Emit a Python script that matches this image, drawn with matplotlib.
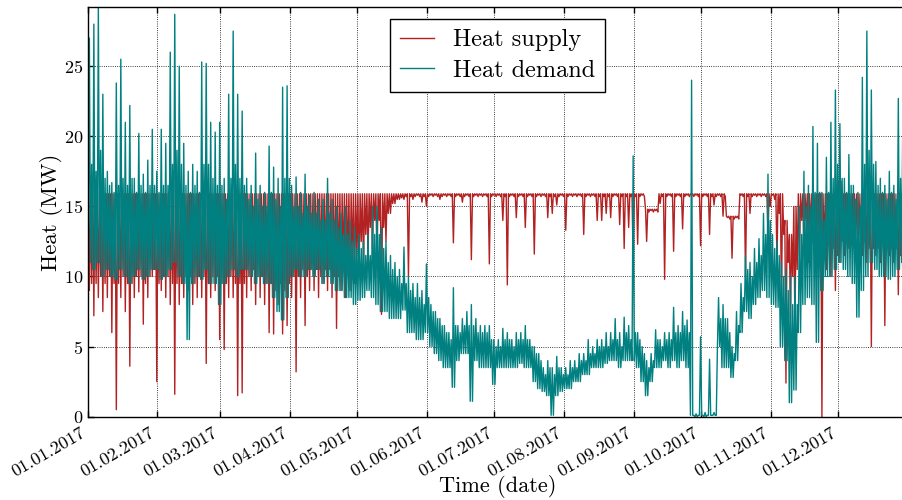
import numpy as np
import matplotlib
matplotlib.use('Agg')
import matplotlib.pyplot as plt
import matplotlib.dates as mdates

plt.rcParams['font.family'] = 'cmr10'
plt.rcParams['axes.formatter.use_mathtext'] = True
plt.rcParams['mathtext.fontset'] = 'cm'

# Heat in MW over 2017, read in 2-day blocks (block k starts on day 2k).
# *_hi / *_lo: highest and lowest value in the block,
# *_core: edge of the dense band (lower edge for supply, upper edge for demand)
supply_hi = [
    15.9, 17.0, 15.9, 15.9, 15.9, 15.9, 15.9, 15.9, 15.9, 15.9,
    15.9, 15.9, 15.9, 15.9, 15.9, 15.9, 15.9, 15.9, 15.9, 17.5,
    15.9, 15.9, 15.9, 15.9, 15.9, 15.9, 16.5, 15.9, 15.9, 15.9,
    15.9, 15.9, 15.9, 15.9, 15.9, 15.9, 15.9, 15.9, 15.9, 15.9,
    15.9, 15.9, 15.9, 15.9, 15.9, 15.9, 15.9, 15.9, 15.9, 15.9,
    15.9, 15.9, 15.9, 15.9, 15.9, 15.9, 15.9, 15.9, 15.9, 15.9,
    15.9, 15.9, 15.9, 15.9, 15.9, 15.9, 15.9, 15.9, 15.9, 15.9,
    15.9, 15.9, 15.9, 15.9, 15.9, 15.9, 15.9, 15.9, 15.9, 15.9,
    15.9, 15.9, 15.9, 15.9, 15.9, 15.9, 15.9, 15.9, 15.9, 15.9,
    15.9, 15.9, 15.9, 15.9, 15.9, 15.9, 15.9, 15.9, 15.9, 15.9,
    15.9, 15.9, 15.9, 15.9, 15.9, 15.9, 15.9, 15.9, 15.9, 15.9,
    15.9, 15.9, 15.9, 15.9, 15.9, 15.9, 15.9, 15.9, 15.9, 15.9,
    15.9, 15.9, 15.9, 15.9, 14.8, 14.8, 14.8, 15.9, 15.9, 15.9,
    15.9, 15.9, 15.9, 15.9, 15.9, 15.9, 15.9, 15.9, 15.9, 15.9,
    15.9, 15.9, 14.3, 14.3, 14.3, 15.9, 15.9, 15.9, 15.9, 15.9,
    15.9, 15.9, 15.9, 15.9, 15.9, 14.0, 13.0, 15.0, 15.9, 15.9,
    15.9, 15.9, 15.9, 15.9, 15.9, 15.9, 15.9, 16.8, 15.9, 15.9,
    15.9, 15.9, 15.9, 15.9, 15.9, 15.9, 15.9, 15.9, 15.9, 15.9,
    15.9, 15.9, 15.9,
]
supply_core = [
    9.5, 9.5, 10.0, 9.5, 10.0, 9.5, 9.5, 10.0, 9.5, 9.5,
    10.0, 10.0, 9.5, 10.0, 10.5, 9.5, 10.0, 10.0, 9.5, 9.5,
    9.5, 10.0, 10.0, 9.5, 10.0, 10.0, 9.5, 10.0, 10.0, 9.5,
    9.5, 10.0, 9.5, 9.5, 9.5, 10.0, 10.5, 10.0, 10.0, 9.5,
    9.5, 9.0, 9.5, 9.0, 9.5, 10.0, 10.0, 10.5, 10.0, 10.5,
    10.5, 10.0, 10.5, 10.5, 10.0, 10.0, 10.5, 10.5, 11.0, 11.5,
    12.5, 13.0, 13.5, 14.0, 14.0, 13.5, 14.5, 15.2, 15.5, 15.6,
    15.7, 15.7, 15.7, 15.7, 15.7, 15.7, 15.7, 15.7, 15.7, 15.7,
    15.7, 15.7, 15.7, 15.7, 15.7, 15.7, 15.7, 15.7, 15.7, 15.7,
    15.7, 15.7, 15.7, 15.7, 15.7, 15.7, 15.7, 15.7, 15.7, 15.7,
    15.7, 15.7, 15.7, 15.7, 15.7, 15.7, 15.7, 15.7, 15.7, 15.7,
    15.7, 15.7, 15.7, 15.7, 15.7, 15.7, 15.7, 15.7, 15.7, 15.7,
    15.7, 15.7, 15.7, 15.7, 14.6, 14.6, 14.6, 15.7, 15.7, 15.7,
    15.7, 15.7, 15.7, 15.7, 15.7, 15.7, 15.7, 15.7, 15.7, 15.7,
    15.7, 15.7, 14.1, 14.1, 14.1, 15.7, 15.7, 15.7, 15.7, 15.7,
    15.7, 15.0, 15.5, 14.5, 13.0, 11.0, 10.0, 10.5, 14.0, 14.0,
    13.5, 14.0, 13.5, 12.0, 12.5, 12.0, 11.5, 12.5, 12.5, 13.0,
    13.0, 13.0, 12.5, 12.0, 12.0, 12.0, 12.5, 12.0, 12.0, 12.0,
    11.5, 11.5, 12.0,
]
supply_lo = [
    9.0, 7.2, 8.5, 7.5, 8.5, 6.0, 0.5, 8.5, 7.5, 3.6,
    8.5, 8.9, 6.6, 8.5, 10.0, 2.5, 9.0, 8.5, 8.0, 1.6,
    8.0, 8.5, 9.0, 8.0, 8.5, 8.5, 3.8, 8.5, 9.0, 5.5,
    4.8, 8.5, 8.5, 1.5, 1.7, 8.5, 9.0, 8.0, 8.5, 8.0,
    6.0, 5.9, 8.0, 5.9, 6.5, 8.5, 3.2, 8.5, 6.5, 9.0,
    9.0, 8.5, 9.5, 9.0, 8.5, 6.3, 9.0, 8.5, 9.0, 9.5,
    10.0, 10.5, 11.5, 12.0, 11.0, 7.3, 12.5, 14.5, 15.2, 15.5,
    15.5, 10.0, 15.5, 15.8, 15.3, 15.0, 15.8, 15.8, 15.5, 15.8,
    15.8, 12.4, 15.8, 15.3, 15.8, 11.2, 15.8, 15.8, 15.8, 10.9,
    15.8, 15.8, 14.0, 9.4, 15.8, 14.2, 15.8, 13.5, 15.8, 11.6,
    15.8, 15.8, 14.2, 14.5, 15.1, 15.8, 13.3, 15.8, 15.8, 15.8,
    13.0, 15.8, 15.8, 14.0, 14.0, 14.5, 14.2, 15.8, 13.7, 12.0,
    13.5, 10.9, 12.3, 15.8, 12.5, 14.7, 14.7, 15.2, 9.8, 15.8,
    11.8, 15.8, 13.4, 15.8, 15.8, 15.8, 12.2, 15.8, 13.0, 15.1,
    15.8, 14.3, 14.2, 11.3, 14.2, 15.8, 10.0, 14.5, 15.8, 15.8,
    15.8, 13.0, 15.8, 11.0, 8.2, 2.4, 7.0, 5.9, 11.5, 12.0,
    11.0, 12.5, 11.0, 0.0, 10.5, 10.0, 9.0, 11.0, 11.5, 12.0,
    12.5, 12.0, 11.5, 11.0, 5.0, 11.5, 11.0, 6.5, 11.5, 11.0,
    8.7, 9.5, 10.0,
]
demand_hi = [
    27.0, 28.0, 29.2, 23.0, 17.5, 16.7, 23.8, 25.5, 21.0, 22.2,
    17.0, 20.2, 17.3, 18.3, 20.5, 17.5, 20.5, 19.5, 26.0, 28.7,
    25.0, 19.5, 17.5, 18.0, 17.5, 25.3, 25.2, 21.0, 20.3, 21.0,
    17.0, 23.0, 27.5, 23.0, 21.8, 17.0, 16.5, 18.8, 16.5, 16.0,
    19.3, 17.8, 17.0, 23.5, 23.6, 16.5, 17.1, 16.0, 17.3, 15.8,
    16.0, 15.5, 15.5, 17.0, 15.5, 15.0, 14.5, 15.0, 14.0, 13.5,
    13.0, 12.5, 13.0, 15.0, 15.0, 13.5, 12.5, 11.5, 11.0, 10.5,
    12.1, 10.0, 9.5, 9.5, 9.0, 10.9, 8.0, 7.5, 7.0, 6.5,
    6.0, 9.2, 6.5, 7.0, 7.5, 8.0, 7.0, 6.5, 6.5, 6.5,
    5.5, 5.5, 6.3, 6.0, 5.5, 6.0, 6.0, 6.5, 5.5, 5.0,
    4.5, 3.5, 4.0, 3.5, 4.3, 3.5, 3.5, 4.0, 4.0, 4.5,
    4.5, 5.5, 5.0, 5.5, 5.5, 6.0, 6.0, 7.0, 6.0, 7.1,
    6.5, 18.6, 6.0, 5.0, 4.0, 4.5, 6.2, 5.5, 6.0, 6.0,
    7.8, 6.5, 7.5, 6.9, 24.0, 0.2, 5.7, 0.3, 4.1, 0.3,
    8.5, 8.0, 7.0, 5.0, 7.5, 9.5, 11.5, 11.0, 12.0, 12.7,
    14.5, 17.3, 13.0, 12.5, 11.0, 10.5, 10.0, 10.0, 15.0, 17.5,
    16.5, 20.7, 19.5, 16.0, 18.5, 21.0, 23.3, 20.9, 17.0, 18.7,
    16.5, 16.0, 24.2, 27.5, 23.3, 18.2, 17.0, 16.5, 17.5, 16.5,
    22.7, 21.3, 18.0,
]
demand_core = [
    18.0, 17.5, 19.0, 17.0, 16.5, 16.0, 16.5, 17.0, 16.5, 17.0,
    16.0, 16.5, 16.0, 16.5, 16.5, 16.0, 16.5, 16.5, 18.0, 19.0,
    18.0, 16.5, 16.0, 16.5, 16.0, 18.0, 18.0, 17.0, 16.5, 16.5,
    15.5, 17.0, 18.0, 17.0, 16.5, 15.5, 15.0, 15.5, 15.0, 15.0,
    16.0, 15.5, 15.0, 17.0, 17.0, 15.0, 15.0, 14.5, 15.0, 14.5,
    14.5, 14.0, 14.0, 14.5, 14.0, 13.5, 13.0, 13.0, 12.5, 12.0,
    12.0, 11.5, 11.5, 13.0, 13.0, 12.0, 11.0, 10.5, 10.0, 9.5,
    9.5, 9.0, 8.5, 8.5, 8.0, 8.5, 7.5, 7.0, 6.5, 6.0,
    5.5, 6.5, 6.0, 6.5, 6.5, 6.5, 6.0, 6.0, 6.0, 5.5,
    5.0, 5.0, 5.5, 5.5, 5.0, 5.5, 5.5, 5.5, 5.0, 4.5,
    4.0, 3.0, 3.5, 3.0, 3.5, 3.0, 3.0, 3.5, 3.5, 4.0,
    4.0, 4.5, 4.5, 5.0, 5.0, 5.0, 5.5, 5.5, 5.0, 6.0,
    5.5, 6.0, 5.5, 4.5, 3.5, 4.0, 5.5, 5.0, 5.5, 5.5,
    6.0, 6.0, 6.5, 6.0, 0.1, 0.1, 0.1, 0.1, 0.1, 0.1,
    7.0, 7.0, 6.0, 4.5, 6.5, 8.5, 10.5, 10.0, 11.0, 11.5,
    13.0, 14.0, 12.0, 11.5, 10.0, 9.0, 8.0, 8.0, 13.0, 15.0,
    15.0, 16.0, 16.0, 14.0, 16.0, 17.0, 18.0, 17.0, 16.0, 16.5,
    15.5, 15.0, 18.0, 19.0, 18.0, 16.5, 16.0, 15.5, 16.0, 15.5,
    17.0, 17.0, 16.5,
]
demand_lo = [
    11.0, 10.5, 11.0, 10.0, 10.5, 10.0, 9.8, 10.5, 10.0, 9.5,
    10.0, 10.5, 9.8, 10.0, 10.5, 10.5, 9.8, 10.0, 10.5, 11.0,
    10.0, 9.5, 5.5, 9.5, 10.0, 9.8, 10.5, 9.5, 9.5, 8.0,
    9.5, 10.0, 10.5, 10.0, 10.5, 10.5, 10.0, 9.5, 10.0, 9.5,
    9.5, 8.5, 7.5, 6.9, 8.5, 10.0, 10.5, 10.0, 10.0, 10.5,
    10.0, 10.5, 9.5, 10.0, 9.5, 9.0, 9.0, 8.5, 8.5, 8.0,
    8.3, 8.5, 9.0, 8.5, 8.0, 7.5, 7.5, 7.0, 7.0, 7.0,
    7.6, 6.0, 6.0, 5.5, 5.5, 6.0, 5.0, 4.5, 4.0, 3.5,
    3.5, 2.1, 4.0, 4.5, 4.5, 1.1, 4.0, 3.5, 3.5, 3.5,
    2.3, 3.5, 3.5, 3.5, 3.5, 3.5, 3.8, 3.5, 3.5, 2.5,
    2.0, 1.8, 1.5, 0.1, 1.5, 1.8, 2.0, 2.0, 2.5, 2.5,
    3.0, 3.0, 3.5, 3.5, 3.5, 3.8, 4.0, 4.0, 3.5, 4.0,
    4.0, 4.0, 3.5, 2.5, 1.5, 2.5, 3.5, 3.5, 4.0, 3.5,
    4.0, 3.5, 4.0, 3.5, 0.1, 0.0, 0.1, 0.0, 0.1, 0.1,
    5.0, 3.5, 3.5, 2.8, 4.0, 6.0, 7.5, 7.0, 8.0, 8.5,
    9.0, 8.5, 8.0, 7.8, 5.0, 4.0, 1.0, 1.9, 6.0, 8.0,
    8.5, 8.0, 5.3, 9.0, 10.0, 10.0, 10.5, 11.0, 10.5, 10.0,
    9.5, 7.1, 9.0, 10.0, 11.0, 10.5, 10.0, 10.0, 9.8, 10.0,
    10.5, 11.0, 11.5,
]


def block_series(*cols):
    # four readings per 2-day block, 12 h apart
    start = np.datetime64('2017-01-01T00:00')
    n = len(cols[0])
    blocks = start + np.arange(n) * np.timedelta64(48, 'h')
    steps = np.array([6, 18, 30, 42]) * np.timedelta64(1, 'h')
    t = (blocks[:, None] + steps[None, :]).ravel()
    y = np.column_stack(cols).ravel()
    return t, y


t_s, supply = block_series(supply_hi, supply_lo, supply_hi, supply_core)
t_d, demand = block_series(demand_lo, demand_hi, demand_lo, demand_core)

fig = plt.figure(figsize=(9.02, 5.0), dpi=100)
ax = fig.add_axes([0.0972, 0.1666, 0.9092, 0.8188])

ax.plot(t_s, supply, color='#b22222', lw=1.0, label='Heat supply')
ax.plot(t_d, demand, color='#008080', lw=1.0, label='Heat demand')

ax.set_xlim(np.datetime64('2017-01-01T00:00'), np.datetime64('2017-12-31T23:00'))
ax.set_ylim(0, 29.2)
ax.set_yticks([0, 5, 10, 15, 20, 25])

ax.xaxis.set_major_locator(mdates.MonthLocator())
ax.xaxis.set_major_formatter(mdates.DateFormatter('%d.%m.%Y'))
ax.tick_params(direction='in', top=True, right=True, length=4, width=1,
               labelsize=13)
ax.tick_params(axis='x', pad=6)
ax.tick_params(axis='y', pad=3)
for lbl in ax.get_xticklabels():
    lbl.set_rotation(30)
    lbl.set_ha('right')

ax.grid(True, linestyle=':', color='k', lw=0.6)
for sp in ax.spines.values():
    sp.set_linewidth(1.0)

ax.set_xlabel('Time (date)', fontsize=16, labelpad=-3)
ax.set_ylabel('Heat (MW)', fontsize=16.5, labelpad=1)

leg = ax.legend(loc='upper center', fontsize=17.5, fancybox=False,
                edgecolor='k', framealpha=1, handlelength=1.4,
                labelspacing=0.35)
leg.get_frame().set_linewidth(1.0)

fig.savefig('out.png', dpi=100)
